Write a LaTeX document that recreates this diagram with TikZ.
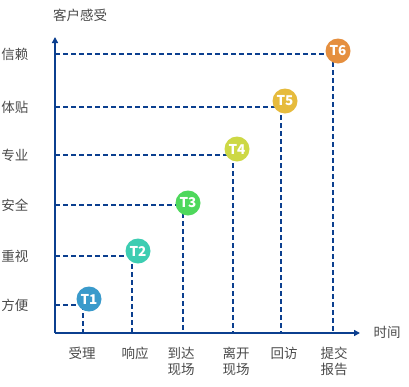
\documentclass[tikz,border=0pt]{standalone}
\usepackage{fontspec}
\setmainfont{Noto Sans CJK SC}
\usetikzlibrary{arrows.meta}
\definecolor{axisblue}{HTML}{0B3F8F}
\definecolor{txtgray}{HTML}{4A4A4A}
\definecolor{cA}{HTML}{3A9ACB}
\definecolor{cB}{HTML}{3DCDB2}
\definecolor{cC}{HTML}{4ED85C}
\definecolor{cD}{HTML}{CDD845}
\definecolor{cE}{HTML}{E6BB3D}
\definecolor{cF}{HTML}{E58F3F}
\tikzset{
  axisline/.style={draw=axisblue, line width=2.4pt},
  guide/.style={draw=axisblue, line width=2pt, dash pattern=on 5pt off 3pt},
  lbl/.style={text=txtgray, font=\fontsize{13.5}{16}\selectfont, inner sep=0pt, align=center},
  tdot/.style={circle, minimum size=25pt, inner sep=0pt, text=white, font=\fontsize{13.5}{13.5}\selectfont\bfseries},
}
\begin{document}
\begin{tikzpicture}[x=1pt,y=-1pt]
\useasboundingbox (0,0) rectangle (409,386);
% axes
\coordinate (O) at (55,333);
\coordinate (Ytop) at (55,37);
\coordinate (Xend) at (360,333);
\draw[axisline, -{Triangle[length=6pt,width=6pt]}] (O) -- (Ytop);
\draw[axisline, -{Triangle[length=6pt,width=6pt]}] (O) -- (Xend);
% corners
\coordinate (p1) at (83,305);
\coordinate (p2) at (132,256);
\coordinate (p3) at (183,205);
\coordinate (p4) at (233,155);
\coordinate (p5) at (281,107);
\coordinate (p6) at (333,54);
\foreach \i in {1,...,6}{
  \draw[guide] (O |- p\i) -- (p\i);
  \draw[guide] (p\i) -- (p\i |- O);
}
% dots
\node[tdot, fill=cA] (t1) at (89,299) {T1};
\node[tdot, fill=cB] (t2) at (138,251) {T2};
\node[tdot, fill=cC] (t3) at (188,203) {T3};
\node[tdot, fill=cD] (t4) at (237,149) {T4};
\node[tdot, fill=cE] (t5) at (285,101) {T5};
\node[tdot, fill=cF] (t6) at (338,51) {T6};
% y labels
\node[lbl] (yl) at (80,15) {客户感受};
\node[lbl] (y6) at (15,54) {信赖};
\node[lbl] (y5) at (15,107) {体贴};
\node[lbl] (y4) at (15,155) {专业};
\node[lbl] (y3) at (15,205) {安全};
\node[lbl] (y2) at (15,256) {重视};
\node[lbl] (y1) at (15,305) {方便};
% x labels
\node[lbl] (xl) at (387,332) {时间};
\node[lbl, anchor=north] (x1) at (82,347) {受理};
\node[lbl, anchor=north] (x2) at (135,347) {响应};
\node[lbl, anchor=north] (x3) at (181,347) {到达\\现场};
\node[lbl, anchor=north] (x4) at (236,347) {离开\\现场};
\node[lbl, anchor=north] (x5) at (284,347) {回访};
\node[lbl, anchor=north] (x6) at (334,347) {提交\\报告};
\end{tikzpicture}
\end{document}
